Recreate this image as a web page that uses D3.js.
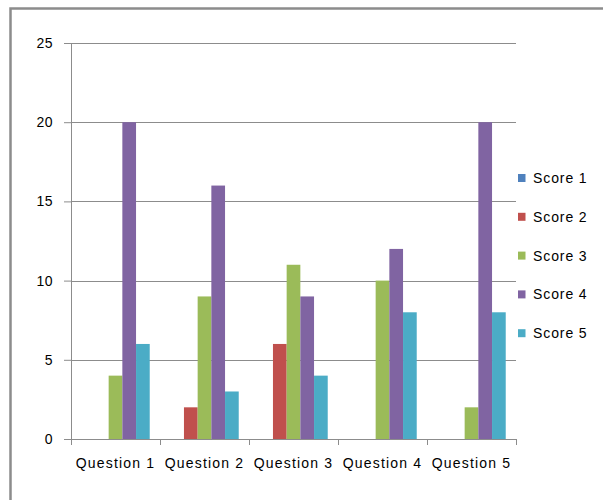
<!DOCTYPE html>
<html>
<head>
<meta charset="utf-8">
<script src="https://cdn.jsdelivr.net/npm/d3@7"></script>
<style>
  body { margin: 0; background: #fff; }
  text { font-family: "Liberation Sans", Arial, sans-serif; fill: #000; }
</style>
</head>
<body>
<div id="wrapper"></div>
<script>
// data
const questions = ["Question 1", "Question 2", "Question 3", "Question 4", "Question 5"];
const seriesNames = ["Score 1", "Score 2", "Score 3", "Score 4", "Score 5"];
const score1 = [0, 0, 0, 0, 0];
const score2 = [0, 2, 6, 0, 0];
const score3 = [4, 9, 11, 10, 2];
const score4 = [20, 16, 9, 12, 20];
const score5 = [6, 3, 4, 8, 8];
const yTicks = [0, 5, 10, 15, 20, 25];
const colors = ["#4F81BD", "#C0504D", "#9BBB59", "#8064A2", "#4BACC6"];

const series = [score1, score2, score3, score4, score5];

// rows for d3
const rows = [];
questions.forEach((q, i) => {
  series.forEach((s, j) => rows.push({ q: q, key: seriesNames[j], value: s[i], idx: j }));
});

// 2. dimensions
let dimensions = {
  width: 603,
  height: 500,
  margin: { top: 43, right: 87, bottom: 61, left: 71 },
}
dimensions.boundedWidth = dimensions.width - dimensions.margin.left - dimensions.margin.right
dimensions.boundedHeight = dimensions.height - dimensions.margin.top - dimensions.margin.bottom

// 3. canvas
const wrapper = d3.select("#wrapper")
  .append("svg")
    .attr("width", dimensions.width)
    .attr("height", dimensions.height)

// outer chart border (only top and left show in the crop)
wrapper.append("rect")
  .attr("x", 10.5)
  .attr("y", 8.5)
  .attr("width", 700)
  .attr("height", 700)
  .attr("fill", "none")
  .attr("stroke", "#8c8c8c")
  .attr("stroke-width", 2.5)

const bounds = wrapper.append("g")
  .attr("transform", `translate(${dimensions.margin.left}, ${dimensions.margin.top})`)

// 4. scales
const xScale = d3.scaleBand()
  .domain(questions)
  .range([0, dimensions.boundedWidth])
  .paddingInner(0)
  .paddingOuter(0)

// gap width 150% of a bar -> 5 bars + 1.5 bar gap per category
const barW = xScale.bandwidth() / 6.5
const innerScale = d3.scaleBand()
  .domain(seriesNames)
  .range([barW * 0.75, xScale.bandwidth() - barW * 0.75])

const yScale = d3.scaleLinear()
  .domain([0, 25])
  .range([dimensions.boundedHeight, 0])

// gridlines
bounds.append("g")
  .selectAll("line")
  .data(yTicks.filter(d => d > 0))
  .join("line")
    .attr("x1", 0)
    .attr("x2", dimensions.boundedWidth)
    .attr("y1", d => Math.round(yScale(d)) + 0.5)
    .attr("y2", d => Math.round(yScale(d)) + 0.5)
    .attr("stroke", "#8c8c8c")
    .attr("stroke-width", 1)

// 5. bars
bounds.append("g")
  .selectAll("rect")
  .data(rows.filter(d => d.value > 0))
  .join("rect")
    .attr("x", d => xScale(d.q) + innerScale(d.key))
    .attr("y", d => yScale(d.value))
    .attr("width", innerScale.bandwidth())
    .attr("height", d => dimensions.boundedHeight - yScale(d.value))
    .attr("fill", d => colors[d.idx])

// 6. axes
const yAxisGenerator = d3.axisLeft(yScale)
  .tickValues(yTicks)
  .tickSize(7)
  .tickPadding(11)
  .tickFormat(d3.format("d"))

const yAxis = bounds.append("g")
  .call(yAxisGenerator)
yAxis.select(".domain").attr("stroke", "#8c8c8c").attr("d", `M0.5,0V${dimensions.boundedHeight}`)
yAxis.selectAll(".tick line").attr("stroke", "#8c8c8c")
yAxis.selectAll("text")
  .style("font-size", "14px")
  .style("letter-spacing", "0.5px")
  .attr("fill", "#000")

const xAxisGenerator = d3.axisBottom(xScale)
  .tickSize(0)
  .tickPadding(19)

const xAxis = bounds.append("g")
  .attr("transform", `translate(0, ${dimensions.boundedHeight})`)
  .call(xAxisGenerator)
xAxis.select(".domain").attr("stroke", "#8c8c8c").attr("d", `M0,0.5H${dimensions.boundedWidth}`)
xAxis.selectAll("text")
  .style("font-size", "14px")
  .style("letter-spacing", "1.2px")
  .attr("fill", "#000")

// category separator ticks
xAxis.append("g")
  .selectAll("line")
  .data(d3.range(questions.length + 1))
  .join("line")
    .attr("x1", d => Math.round(d * xScale.step()) + 0.5)
    .attr("x2", d => Math.round(d * xScale.step()) + 0.5)
    .attr("y1", 0)
    .attr("y2", 6)
    .attr("stroke", "#8c8c8c")

// legend
const legend = wrapper.append("g")
  .attr("transform", "translate(518, 178)")

const legendItems = legend.selectAll("g")
  .data(seriesNames)
  .join("g")
    .attr("transform", (d, i) => `translate(0, ${i * 38.8})`)

legendItems.append("rect")
  .attr("x", 0)
  .attr("y", -4)
  .attr("width", 7.5)
  .attr("height", 8)
  .attr("fill", (d, i) => colors[i])

legendItems.append("text")
  .attr("x", 15)
  .attr("y", 0)
  .attr("dy", "0.35em")
  .style("font-size", "14px")
  .style("letter-spacing", "0.9px")
  .text(d => d)
</script>
</body>
</html>
